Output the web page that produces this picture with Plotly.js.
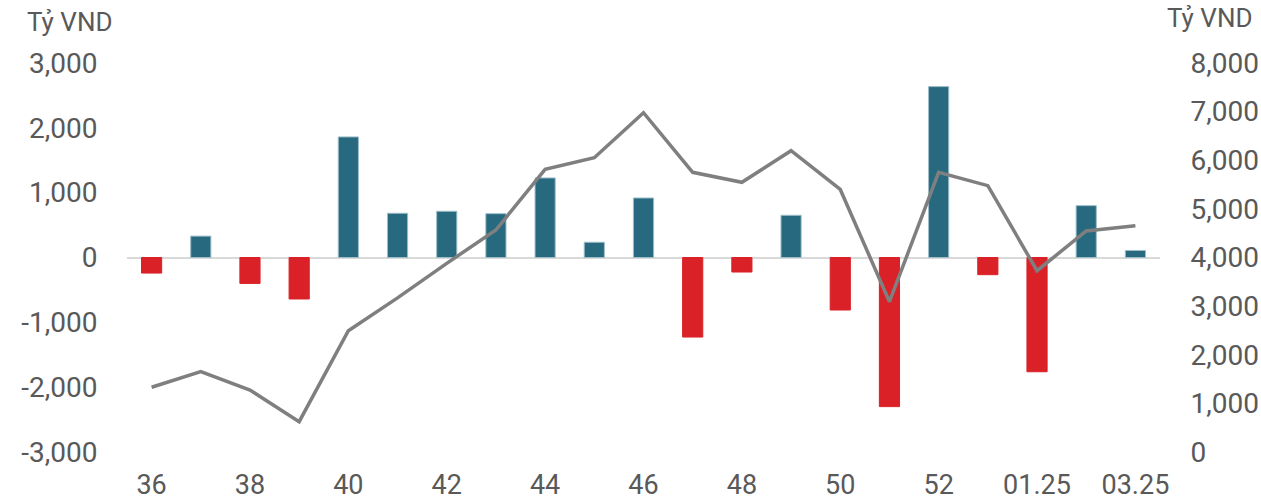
<!DOCTYPE html>
<html>
<head>
<meta charset="utf-8">
<script src="https://cdn.plot.ly/plotly-3.0.1.min.js"></script>
<style>html,body{margin:0;padding:0;background:#fff;}#chart{width:1261px;height:503px;}</style>
</head>
<body>
<div id="chart"></div>
<script>
const categories = ["36","37","38","39","40","41","42","43","44","45","46","47","48","49","50","51","52","53","01.25","02.25","03.25"];
const flowValues = [-240, 330, -400, -640, 1860, 682, 713, 676, 1227, 235, 918, -1227, -224, 651, -810, -2300, 2636, -265, -1762, 800, 108];
const lineValues = [1331, 1652, 1275, 624, 2495, 3170, 3880, 4566, 5814, 6052, 6978, 5752, 5546, 6196, 5400, 3091, 5752, 5477, 3728, 4545, 4654];
const tickLabels = ["36","38","40","42","44","46","48","50","52","01.25","03.25"];
const leftTicks = [-3000, -2000, -1000, 0, 1000, 2000, 3000];
const rightTicks = [0, 1000, 2000, 3000, 4000, 5000, 6000, 7000, 8000];
const unitLabel = "Tỷ VND";

const BLUE = "#276a80", RED = "#da2128";
const fmt = v => v.toLocaleString("en-US");

const barTrace = {
  type: "bar", x: categories, y: flowValues, yaxis: "y", width: 0.41,
  marker: {
    color: flowValues.map(v => v >= 0 ? BLUE : RED),
    line: { width: 1, color: flowValues.map(v => v >= 0 ? "#9dbdc8" : RED) }
  },
  hoverinfo: "x+y"
};
const lineTrace = {
  type: "scatter", mode: "lines", x: categories, y: lineValues, yaxis: "y2",
  line: { color: "#7f7f7f", width: 3.5 }, hoverinfo: "x+y"
};

const font = { family: "Roboto, sans-serif", size: 28, color: "#595959" };
const xFont = { family: "Roboto, sans-serif", size: 27, color: "#595959" };
const titleFont = { family: "Roboto, sans-serif", size: 26, color: "#595959" };
const layout = {
  width: 1261, height: 503,
  margin: { l: 127, r: 101, t: 63, b: 51 },
  paper_bgcolor: "#fff", plot_bgcolor: "#fff",
  showlegend: false, font: font, bargap: 0.59,
  xaxis: {
    type: "category", tickmode: "array", tickvals: tickLabels, ticktext: tickLabels,
    showgrid: false, zeroline: false, showline: false,
    ticks: "outside", ticklen: 9, tickcolor: "rgba(0,0,0,0)",
    tickfont: xFont
  },
  yaxis: {
    range: [-3000, 3000], tickvals: leftTicks, ticktext: leftTicks.map(fmt),
    showgrid: false, zeroline: true, zerolinecolor: "#d9d9d9", zerolinewidth: 2,
    showline: false, ticks: "outside", ticklen: 23, tickcolor: "rgba(0,0,0,0)",
    tickfont: font
  },
  yaxis2: {
    overlaying: "y", side: "right", range: [0, 8000],
    tickvals: rightTicks, ticktext: rightTicks.map(fmt),
    showgrid: false, zeroline: false, showline: false,
    ticks: "outside", ticklen: 24, tickcolor: "rgba(0,0,0,0)",
    tickfont: font
  },
  annotations: [
    { text: unitLabel, xref: "paper", yref: "paper", x: -0.099, y: 1.0, yshift: 41, xanchor: "left", yanchor: "middle", showarrow: false, font: titleFont },
    { text: unitLabel, xref: "paper", yref: "paper", x: 1.0, xshift: 5, y: 1.0, yshift: 45, xanchor: "left", yanchor: "middle", showarrow: false, font: titleFont }
  ]
};

Plotly.newPlot("chart", [barTrace, lineTrace], layout, { displayModeBar: false, staticPlot: true });
</script>
</body>
</html>
